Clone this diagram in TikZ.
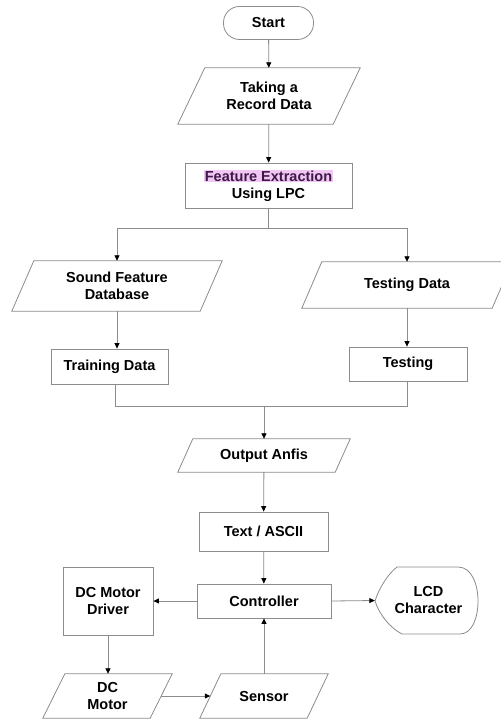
\documentclass[tikz,border=0pt]{standalone}
\usepackage{fontspec}
\setmainfont{Liberation Sans}
\usetikzlibrary{arrows.meta}
\definecolor{linegray}{RGB}{140,140,140}
\definecolor{hlpink}{RGB}{242,198,242}
\definecolor{hltext}{RGB}{60,25,70}
\tikzset{
  txt/.style={font=\fontsize{14.5}{17}\selectfont\bfseries, align=center, inner sep=0pt},
  boxn/.style={txt, draw=linegray, line width=0.8pt, rectangle},
  paran/.style={txt, draw=none, rectangle},
  conn/.style={draw=linegray, line width=0.8pt},
  arr/.style={conn, -{Triangle[length=5.5pt,width=5pt,color=black]}},
}
\newcommand{\paradraw}[2]{%
  \draw[conn] ([xshift=#2pt]#1.north west) -- (#1.north east) -- ([xshift=-#2pt]#1.south east) -- (#1.south west) -- cycle;}
\begin{document}
\begin{tikzpicture}[x=1pt,y=-1pt]
\useasboundingbox (0,0) rectangle (500,719);
\fill[white] (0,0) rectangle (500,719);

% nodes
\node[boxn, rounded corners=16pt, minimum width=90pt, minimum height=33pt] (start) at (268.5,23) {Start};
\node[paran, minimum width=182pt, minimum height=56pt] (rec) at (269,96) {Taking a\\Record Data};
\paradraw{rec}{27}
\node[boxn, minimum width=167pt, minimum height=45pt] (fe) at (268.5,185.5)
  {\setlength{\fboxsep}{1pt}\colorbox{hlpink}{\textcolor{hltext}{Feature Extraction}}\\Using LPC};
\node[paran, minimum width=210pt, minimum height=50pt] (sfd) at (117,286) {Sound Feature\\Database};
\paradraw{sfd}{22}
\node[paran, minimum width=210pt, minimum height=46pt] (td) at (407,285) {Testing Data};
\paradraw{td}{20}
\node[boxn, minimum width=117pt, minimum height=35pt] (train) at (109.5,366.5) {Training Data};
\node[boxn, minimum width=118pt, minimum height=34pt] (test) at (408,364) {Testing};
\node[paran, minimum width=172pt, minimum height=33pt] (out) at (264,455.5) {Output Anfis};
\paradraw{out}{15}
\node[boxn, minimum width=129pt, minimum height=39pt] (txtn) at (263.5,531.5) {Text / ASCII};
\node[boxn, minimum width=134pt, minimum height=34pt] (ctl) at (264,601) {Controller};
\node[boxn, minimum width=90pt, minimum height=68pt] (drv) at (108,601) {DC Motor\\Driver};
\node[paran, minimum width=103pt, minimum height=67pt] (lcd) at (426.5,600.5) {\hspace*{4pt}LCD\\\hspace*{4pt}Character};
\draw[conn] (397,567) -- (458,567) .. controls (472,567) and (478,585) .. (478,601)
  .. controls (478,618) and (472,634) .. (460,634) -- (402,634)
  .. controls (390,628) and (379,614) .. (375,601)
  .. controls (379,588) and (388,574) .. (397,567) -- cycle;
\node[paran, minimum width=129pt, minimum height=44pt] (dcm) at (107.5,696) {DC\\Motor};
\paradraw{dcm}{22}
\node[paran, minimum width=128pt, minimum height=44pt] (sen) at (264,696) {Sensor};
\paradraw{sen}{21}

% connectors
\coordinate (s1) at (117,228);
\coordinate (s2) at (407,228);
\coordinate (m1) at (115,406);
\coordinate (m2) at (407,406);
\draw[arr] (start) -- (rec);
\draw[arr] (rec) -- (fe);
\draw[conn] (fe.south) -- (fe.south |- s1);
\draw[conn] (s1) -- (s2);
\draw[arr] (s1) -- (sfd.north);
\draw[arr] (s2) -- (td.north);
\draw[arr] (sfd.south) -- (sfd.south |- train.north);
\draw[arr] (td.south) -- (td.south |- test.north);
\draw[conn] (train.south -| m1) -- (m1) -- (m2) -- (test.south -| m2);
\draw[arr] (out.north |- m1) -- (out.north);
\draw[arr] (out) -- (txtn);
\draw[arr] (txtn) -- (ctl);
\draw[arr] (ctl.west) -- (drv.east);
\draw[arr] (ctl.east) -- (lcd.west);
\draw[arr] (drv.south) -- (drv.south |- dcm.north);
\draw[arr] ([xshift=-11pt]dcm.east) -- ([xshift=10.5pt]sen.west);
\draw[arr] (sen.north) -- (ctl.south);
\end{tikzpicture}
\end{document}
